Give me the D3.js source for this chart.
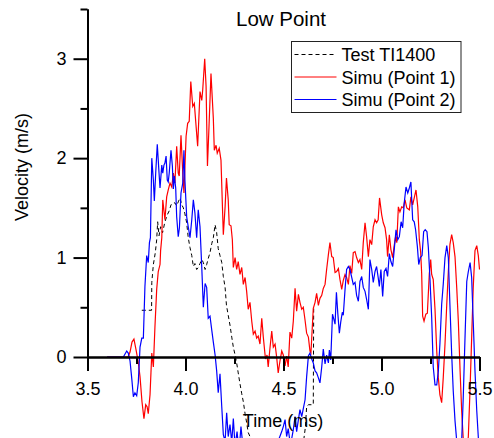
<!DOCTYPE html>
<html>
<head>
<meta charset="utf-8">
<script src="https://cdn.jsdelivr.net/npm/d3@7"></script>
<style>
  body { margin: 0; background: #fff; }
  svg text { font-family: "Liberation Sans", Arial, sans-serif; fill: #000; }
</style>
</head>
<body>
<div id="chart"></div>
<script>
// [time (ms), velocity (m/s)]
var testData = [
  [3.777,0.47],[3.804,0.47],[3.827,0.47],[3.828,0.75],[3.836,0.93],[3.846,1.05],[3.853,1.18],[3.858,1.36],
  [3.865,1.22],[3.873,1.31],[3.883,1.25],[3.895,1.36],[3.907,1.43],[3.917,1.47],[3.926,1.53],[3.935,1.55],
  [3.946,1.55],[3.955,1.52],[3.963,1.56],[3.972,1.6],[3.981,1.53],[3.989,1.5],[3.997,1.44],[4.006,1.35],
  [4.014,1.2],[4.023,1.1],[4.032,1.02],[4.040,0.91],[4.048,0.94],[4.057,0.88],[4.065,0.9],[4.074,0.94],
  [4.083,0.98],[4.091,0.95],[4.100,0.88],[4.108,0.93],[4.116,0.99],[4.125,1.05],[4.134,1.14],[4.142,1.2],
  [4.151,1.33],[4.159,1.25],[4.167,1.09],[4.176,1.02],[4.185,0.95],[4.193,0.81],[4.202,0.7],[4.209,0.52],
  [4.218,0.42],[4.227,0.32],[4.236,0.2],[4.244,0.1],[4.253,0.02],[4.261,-0.06],[4.269,-0.16],[4.278,-0.27],
  [4.287,-0.37],[4.295,-0.45],[4.304,-0.57],[4.312,-0.66],[4.320,-0.76],[4.329,-0.8],[4.339,-0.88],[4.360,-1.0],
  [4.390,-1.1],[4.431,-1.15],[4.482,-1.15],[4.533,-1.1],[4.574,-1.0],[4.599,-0.9],[4.612,-0.7],[4.618,-0.5],
  [4.627,-0.48],[4.652,-0.48],[4.654,0.49]
];

var simu1Data = [
  [3.600,0],[3.707,0],[3.717,0.05],[3.727,0.15],[3.737,0.18],[3.747,0.08],[3.759,-0.05],[3.768,-0.2],
  [3.778,-0.45],[3.788,-0.62],[3.797,-0.48],[3.804,-0.5],[3.810,-0.57],[3.819,-0.38],[3.828,0.04],[3.836,-0.1],
  [3.844,0.3],[3.853,0.68],[3.861,0.86],[3.870,0.93],[3.873,1.07],[3.879,1.2],[3.884,1.58],[3.895,1.38],
  [3.904,1.61],[3.912,1.68],[3.921,1.75],[3.930,1.71],[3.938,1.85],[3.946,1.75],[3.955,2.12],[3.963,1.85],
  [3.968,1.82],[3.977,2.23],[3.986,1.85],[3.992,1.65],[4.003,2.22],[4.011,2.35],[4.019,2.37],[4.027,2.77],
  [4.037,2.52],[4.045,2.55],[4.054,2.32],[4.062,2.12],[4.074,2.67],[4.083,2.58],[4.088,2.69],[4.098,3.0],
  [4.105,2.72],[4.112,1.92],[4.120,2.32],[4.130,2.85],[4.142,2.4],[4.147,2.08],[4.156,2.13],[4.162,2.05],
  [4.172,2.1],[4.181,1.98],[4.193,1.23],[4.202,1.51],[4.209,1.8],[4.218,1.58],[4.223,1.33],[4.232,1.32],
  [4.239,1.18],[4.244,0.9],[4.253,1.0],[4.261,0.88],[4.269,0.96],[4.278,0.83],[4.287,0.9],[4.295,0.73],
  [4.304,0.8],[4.312,0.66],[4.320,0.48],[4.329,0.55],[4.338,0.36],[4.346,0.23],[4.355,0.26],[4.363,0.19],
  [4.371,0.21],[4.380,0.13],[4.389,0.39],[4.397,0.2],[4.408,-0.02],[4.416,0.02],[4.422,-0.1],[4.431,0.09],
  [4.440,0.26],[4.448,0.1],[4.457,0.13],[4.465,0.0],[4.473,-0.16],[4.482,-0.04],[4.491,0.06],[4.499,0.02],
  [4.508,-0.09],[4.516,0.01],[4.524,-0.1],[4.533,0.25],[4.542,0.19],[4.550,0.36],[4.559,0.69],[4.567,0.46],
  [4.576,0.63],[4.584,0.55],[4.593,0.48],[4.601,0.5],[4.610,0.37],[4.618,0.24],[4.627,0.2],[4.635,0.06],
  [4.640,0.04],[4.652,0.49],[4.661,0.55],[4.669,0.64],[4.678,0.52],[4.686,0.59],[4.695,0.62],[4.703,0.69],
  [4.712,0.73],[4.720,0.88],[4.729,1.03],[4.737,1.15],[4.746,1.01],[4.754,1.0],[4.763,0.85],[4.771,0.86],
  [4.780,0.89],[4.788,0.78],[4.797,0.68],[4.805,0.77],[4.814,0.83],[4.822,0.8],[4.831,0.73],[4.839,0.92],
  [4.848,0.84],[4.856,1.05],[4.865,1.06],[4.873,1.0],[4.882,0.95],[4.890,0.98],[4.899,0.88],[4.907,1.15],
  [4.916,1.35],[4.924,1.21],[4.933,1.01],[4.941,1.18],[4.950,1.13],[4.958,1.31],[4.967,1.38],[4.975,1.35],
  [4.983,1.38],[4.990,1.6],[5.001,1.43],[5.009,1.35],[5.018,1.3],[5.026,1.18],[5.031,1.01],[5.040,1.23],
  [5.048,1.08],[5.057,1.0],[5.064,1.11],[5.072,1.21],[5.078,1.15],[5.086,1.51],[5.094,1.46],[5.103,1.51],
  [5.111,1.5],[5.120,1.58],[5.129,1.5],[5.142,1.48],[5.150,1.61],[5.159,1.53],[5.167,1.6],[5.176,1.68],
  [5.185,1.51],[5.193,1.18],[5.200,1.05],[5.205,0.84],[5.210,0.41],[5.217,0.36],[5.226,0.43],[5.234,0.44],
  [5.244,0.84],[5.251,0.98],[5.256,0.83],[5.264,0.78],[5.273,0.48],[5.282,0.05],[5.290,-0.21],[5.298,-0.38],
  [5.307,-0.46],[5.315,-0.21],[5.324,0.13],[5.333,0.53],[5.341,0.86],[5.349,1.13],[5.358,1.23],[5.366,1.15],
  [5.375,1.01],[5.384,0.69],[5.392,0.36],[5.401,-0.14],[5.409,-0.54],[5.417,-0.82],[5.426,-0.95],[5.435,-0.95],
  [5.443,-0.8],[5.452,-0.31],[5.460,0.19],[5.468,0.7],[5.477,1.07],[5.486,1.12],[5.494,1.02],[5.500,0.88]
];

var simu2Data = [
  [3.600,0],[3.683,0],[3.700,0.06],[3.708,0.04],[3.717,-0.04],[3.726,-0.22],[3.734,-0.4],[3.742,-0.36],
  [3.751,-0.39],[3.759,-0.26],[3.768,0.1],[3.777,0.19],[3.785,0.19],[3.793,0.71],[3.802,1.02],[3.810,0.95],
  [3.816,1.15],[3.821,1.2],[3.828,2.0],[3.836,1.78],[3.841,1.57],[3.848,1.85],[3.856,2.14],[3.865,1.85],
  [3.870,1.7],[3.879,1.93],[3.884,1.85],[3.890,1.93],[3.895,1.95],[3.901,2.02],[3.907,1.78],[3.912,1.76],
  [3.917,1.85],[3.926,2.08],[3.933,1.92],[3.938,1.69],[3.943,1.82],[3.950,1.7],[3.955,1.41],[3.963,1.21],
  [3.969,1.3],[3.977,1.65],[3.986,1.75],[3.992,2.08],[3.997,1.78],[4.006,1.41],[4.014,1.31],[4.023,1.2],
  [4.032,1.38],[4.040,1.58],[4.048,1.45],[4.057,1.2],[4.065,1.48],[4.074,1.31],[4.083,0.9],[4.091,0.5],
  [4.100,0.74],[4.108,0.7],[4.116,0.39],[4.125,0.41],[4.134,0.27],[4.142,0.15],[4.151,0.02],[4.159,-0.14],
  [4.167,-0.36],[4.176,-0.17],[4.185,-0.5],[4.193,-0.78],[4.202,-0.85],[4.210,-0.56],[4.218,-0.8],[4.227,-0.68],
  [4.236,-0.86],[4.244,-0.62],[4.253,-0.9],[4.263,-0.75],[4.273,-0.95],[4.283,-0.7],[4.293,-0.9],[4.304,-1.0],
  [4.319,-0.85],[4.334,-1.0],[4.349,-0.9],[4.370,-1.05],[4.390,-0.9],[4.410,-1.0],[4.431,-0.85],[4.452,-0.95],
  [4.472,-0.85],[4.491,-0.75],[4.499,-0.7],[4.508,-0.63],[4.516,-0.8],[4.524,-0.72],[4.533,-0.85],[4.542,-0.82],
  [4.550,-0.73],[4.559,-0.6],[4.567,-0.75],[4.576,-0.63],[4.584,-0.53],[4.593,-0.6],[4.601,-0.52],[4.610,-0.43],
  [4.618,-0.2],[4.627,0.01],[4.635,0.04],[4.644,-0.02],[4.652,-0.06],[4.661,-0.14],[4.669,-0.16],[4.678,-0.21],
  [4.686,-0.26],[4.695,-0.1],[4.703,0.08],[4.712,-0.07],[4.720,0.02],[4.729,-0.06],[4.734,0.07],[4.741,-0.03],
  [4.750,0.43],[4.758,0.37],[4.763,0.33],[4.770,0.65],[4.777,0.44],[4.785,0.24],[4.792,0.35],[4.800,0.45],
  [4.805,0.42],[4.814,0.68],[4.822,0.88],[4.831,0.91],[4.839,0.88],[4.848,0.8],[4.856,0.73],[4.865,0.75],
  [4.873,0.62],[4.882,0.56],[4.890,0.76],[4.899,0.81],[4.907,0.7],[4.916,0.66],[4.924,0.58],[4.933,0.48],
  [4.941,0.98],[4.950,0.88],[4.958,0.75],[4.967,0.86],[4.975,0.91],[4.983,0.8],[4.989,0.71],[4.997,0.88],
  [5.006,0.61],[5.014,0.86],[5.023,0.89],[5.031,0.81],[5.040,1.04],[5.048,0.96],[5.057,0.91],[5.065,1.08],
  [5.074,1.28],[5.083,1.18],[5.091,1.21],[5.100,1.36],[5.108,1.3],[5.116,1.55],[5.125,1.71],[5.134,1.65],
  [5.142,1.7],[5.150,1.76],[5.159,1.38],[5.167,1.36],[5.174,1.28],[5.183,1.11],[5.190,0.93],[5.198,1.0],
  [5.207,1.02],[5.215,1.26],[5.223,1.28],[5.232,1.26],[5.239,1.1],[5.247,0.8],[5.256,0.4],[5.264,-0.1],
  [5.273,-0.28],[5.282,-0.28],[5.290,-0.14],[5.298,0.13],[5.307,0.53],[5.315,0.73],[5.324,1.0],[5.333,1.12],
  [5.341,1.0],[5.349,0.53],[5.358,0.03],[5.366,-0.34],[5.375,-0.64],[5.384,-0.85],[5.393,-1.0],[5.401,-1.0],
  [5.409,-0.85],[5.417,-0.41],[5.426,0.19],[5.435,0.76],[5.443,0.86],[5.452,0.95],[5.460,0.8],[5.468,0.36],
  [5.477,-0.14],[5.486,-0.54],[5.494,-0.81],[5.500,-1.0]
];

var xTicks = [3.5, 4.0, 4.5, 5.0, 5.5];
var xMinorTicks = [3.75, 4.25, 4.75, 5.25];
var yTicks = [0, 1, 2, 3];
var yMinorTicks = [0.5, 1.5, 2.5, 3.5];
var legendLabels = ["Test TI1400", "Simu (Point 1)", "Simu (Point 2)"];
var title = "Low Point";
var xTitle = "Time (ms)";
var yTitle = "Velocity (m/s)";

var width = 494, height = 438;

var svg = d3.select("#chart").append("svg")
    .attr("width", width)
    .attr("height", height);

var x = d3.scaleLinear().domain([3.5, 5.5]).range([87.5, 479.5]);
var y = d3.scaleLinear().domain([0, 3.5]).range([357, 9]);

var line = d3.line()
    .x(function (d) { return x(d[0]); })
    .y(function (d) { return y(d[1]); });

var series = [
    { data: testData, color: "#000", dash: "4,3", width: 1 },
    { data: simu1Data, color: "#ff0000", dash: null, width: 1.2 },
    { data: simu2Data, color: "#0000ff", dash: null, width: 1.2 }
];

series.forEach(function (s) {
    svg.append("path")
        .attr("d", line(s.data))
        .attr("fill", "none")
        .attr("stroke", s.color)
        .attr("stroke-width", s.width)
        .attr("stroke-dasharray", s.dash);
});

// axes
var xAxis = svg.append("g")
    .attr("transform", "translate(0," + y(0) + ")")
    .call(d3.axisBottom(x).tickValues(xTicks).tickSize(14).tickSizeOuter(0)
        .tickPadding(11).tickFormat(d3.format(".1f")));

var xMinor = svg.append("g")
    .attr("transform", "translate(0," + y(0) + ")")
    .call(d3.axisBottom(x).tickValues(xMinorTicks).tickSize(7).tickSizeOuter(0).tickFormat(""));

var yAxis = svg.append("g")
    .attr("transform", "translate(" + x(3.5) + ",0)")
    .call(d3.axisLeft(y).tickValues(yTicks).tickSize(14).tickSizeOuter(0)
        .tickPadding(7).tickFormat(d3.format("d")));

var yMinor = svg.append("g")
    .attr("transform", "translate(" + x(3.5) + ",0)")
    .call(d3.axisLeft(y).tickValues(yMinorTicks).tickSize(7).tickSizeOuter(0).tickFormat(""));

[xAxis, xMinor, yAxis, yMinor].forEach(function (g) {
    g.selectAll("path, line").attr("stroke", "#000").attr("stroke-width", 2);
    g.selectAll("text").attr("font-size", 18).attr("fill", "#000")
        .attr("font-family", "'Liberation Sans', Arial, sans-serif");
});

// titles
svg.append("text")
    .attr("x", 281).attr("y", 26)
    .attr("text-anchor", "middle")
    .attr("font-size", 20.5)
    .text(title);

svg.append("text")
    .attr("x", 283).attr("y", 427)
    .attr("text-anchor", "middle")
    .attr("font-size", 18)
    .text(xTitle);

svg.append("text")
    .attr("transform", "translate(28,167) rotate(-90)")
    .attr("text-anchor", "middle")
    .attr("font-size", 18)
    .text(yTitle);

// legend
var legend = svg.append("g").attr("transform", "translate(291.5,41.5)");

legend.append("rect")
    .attr("width", 169.5).attr("height", 71)
    .attr("fill", "#fff")
    .attr("stroke", "#222")
    .attr("stroke-width", 1);

legendLabels.forEach(function (label, i) {
    var s = series[i];
    var yy = 13 + i * 22.5;
    legend.append("line")
        .attr("x1", 3).attr("x2", 45)
        .attr("y1", yy).attr("y2", yy)
        .attr("stroke", s.color)
        .attr("stroke-width", 1)
        .attr("stroke-dasharray", s.dash);
    legend.append("text")
        .attr("x", 50).attr("y", yy + 6.5)
        .attr("font-size", 18)
        .text(label);
});
</script>
</body>
</html>
